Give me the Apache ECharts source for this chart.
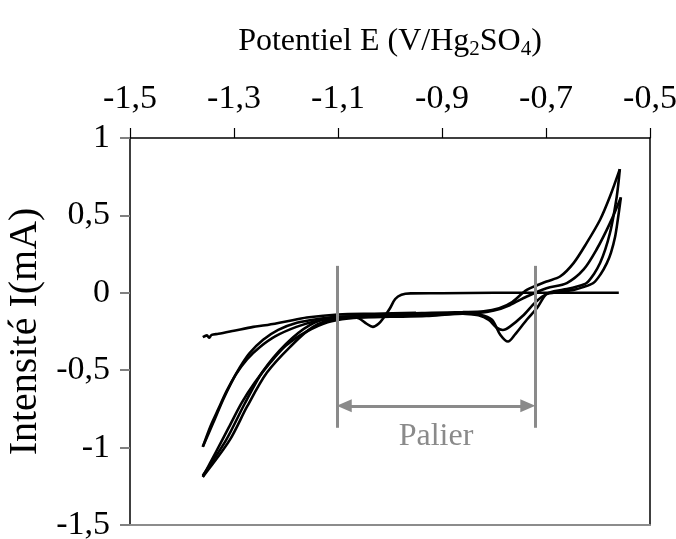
<!DOCTYPE html>
<html>
<head>
<meta charset="utf-8">
<script src="https://cdn.jsdelivr.net/npm/echarts@6/dist/echarts.min.js"></script>
<style>html,body{margin:0;padding:0;background:#fff}#c{width:676px;height:539px}</style>
</head>
<body>
<div id="c"></div>
<script>
// ---- data: [potential E (V), current I (mA)] ----
const xTicks = [-1.5, -1.3, -1.1, -0.9, -0.7, -0.5];
const yTicks = [-1.5, -1, -0.5, 0, 0.5, 1];

const sweep0 = [[-0.56,0.0],[-0.62,0.0],[-0.70,0.0],[-0.80,0.0],[-0.90,-0.003],[-0.96,-0.004],[-0.978,-0.012],[-0.99,-0.04],[-1.0,-0.1],[-1.012,-0.16],[-1.022,-0.2],[-1.033,-0.22],[-1.045,-0.2],[-1.06,-0.165],[-1.08,-0.155],[-1.11,-0.16],[-1.155,-0.21],[-1.20,-0.33],[-1.245,-0.51],[-1.28,-0.72],[-1.315,-0.95],[-1.36,-1.18]];

const sweep1 = [[-1.36,-1.189],[-1.335,-1.03],[-1.31,-0.87],[-1.285,-0.71],[-1.26,-0.58],[-1.23,-0.45],[-1.20,-0.34],[-1.16,-0.25],[-1.12,-0.19],[-1.08,-0.165],[-1.02,-0.15],[-0.95,-0.14],[-0.88,-0.135],[-0.83,-0.13],[-0.80,-0.115],[-0.77,-0.08],[-0.737,-0.024],[-0.699,0.03],[-0.66,0.063],[-0.628,0.149],[-0.603,0.278],[-0.577,0.45],[-0.556,0.616]];

const sweep2 = [[-0.556,0.616],[-0.562,0.47],[-0.567,0.364],[-0.575,0.26],[-0.583,0.192],[-0.595,0.12],[-0.609,0.063],[-0.63,0.035],[-0.647,0.019],[-0.675,0.005],[-0.70,-0.01],[-0.72,-0.06],[-0.745,-0.15],[-0.77,-0.22],[-0.783,-0.24],[-0.795,-0.225],[-0.81,-0.175],[-0.83,-0.145],[-0.86,-0.135],[-0.92,-0.14],[-0.98,-0.145],[-1.04,-0.15],[-1.10,-0.155],[-1.14,-0.17],[-1.179,-0.194],[-1.215,-0.24],[-1.244,-0.304],[-1.27,-0.39],[-1.288,-0.478],[-1.305,-0.58],[-1.321,-0.691],[-1.34,-0.84],[-1.36,-0.995]];

const sweep3 = [[-1.36,-0.995],[-1.345,-0.86],[-1.33,-0.75],[-1.315,-0.64],[-1.297,-0.53],[-1.275,-0.43],[-1.25,-0.35],[-1.22,-0.28],[-1.18,-0.22],[-1.14,-0.18],[-1.10,-0.16],[-1.04,-0.145],[-0.98,-0.135],[-0.92,-0.13],[-0.86,-0.125],[-0.82,-0.12],[-0.79,-0.10],[-0.765,-0.06],[-0.737,0.019],[-0.699,0.073],[-0.673,0.105],[-0.647,0.192],[-0.622,0.321],[-0.596,0.472],[-0.577,0.622],[-0.558,0.799]];

const sweep4 = [[-0.558,0.799],[-0.561,0.70],[-0.564,0.62],[-0.57,0.50],[-0.577,0.386],[-0.586,0.28],[-0.596,0.192],[-0.608,0.12],[-0.622,0.063],[-0.64,0.04],[-0.66,0.024],[-0.685,0.01],[-0.70,-0.01],[-0.717,-0.097],[-0.737,-0.174],[-0.76,-0.271],[-0.773,-0.315],[-0.788,-0.271],[-0.804,-0.174],[-0.827,-0.142],[-0.86,-0.135],[-0.93,-0.15],[-1.0,-0.155],[-1.06,-0.16],[-1.10,-0.165],[-1.148,-0.22],[-1.192,-0.349],[-1.237,-0.517],[-1.275,-0.736],[-1.308,-0.95],[-1.36,-1.189]];

const sweep5 = [[-0.95,-0.13],[-1.03,-0.135],[-1.10,-0.14],[-1.16,-0.16],[-1.20,-0.185],[-1.24,-0.21],[-1.263,-0.22],[-1.30,-0.245],[-1.33,-0.265],[-1.343,-0.272],[-1.348,-0.29],[-1.352,-0.275],[-1.36,-0.286]];

// "Palier" annotation: plateau limits (E) and drawing extents (I)
const palierE = [-1.102, -0.721];
const palierI = [0.174, -0.872];
const palierArrowI = -0.73;
const palierLabel = 'Palier';

const FONT = '"Liberation Serif", "Times New Roman", serif';
const chart = echarts.init(document.getElementById('c'));

const sweeps = [sweep0, sweep1, sweep2, sweep3, sweep4, sweep5];
const series = sweeps.map(d => ({
  type: 'line', data: d, showSymbol: false, smooth: 0.3, silent: true,
  lineStyle: {color: '#000', width: 2.6}, z: 3
}));

const gray = '#8a8a8a';
series.push({
  type: 'line', data: [], silent: true,
  markLine: {
    silent: true, animation: false,
    symbol: ['none', 'none'],
    lineStyle: {color: gray, width: 3, type: 'solid'},
    label: {show: false},
    data: [
      [{coord: [palierE[0], palierI[0]]}, {coord: [palierE[0], palierI[1]]}],
      [{coord: [palierE[1], palierI[0]]}, {coord: [palierE[1], palierI[1]]}],
      [{coord: [palierE[0] + 0.014, palierArrowI], symbol: 'triangle', symbolSize: [13, 15]},
       {coord: [palierE[1] - 0.014, palierArrowI], symbol: 'triangle', symbolSize: [13, 15],
        label: {show: true, formatter: palierLabel, position: 'insideMiddleBottom', distance: 15,
          color: gray, fontSize: 32, fontFamily: FONT}}]
    ]
  }
});

chart.setOption({
  animation: false,
  grid: {left: 130, right: 26, top: 138, bottom: 14, containLabel: false, outerBoundsMode: 'none'},
  xAxis: [{
    type: 'value', position: 'top', min: xTicks[0], max: xTicks[xTicks.length - 1], interval: 0.2,
    axisLine: {onZero: false, lineStyle: {color: '#000', width: 1.5}},
    axisTick: {show: true, length: 10, lineStyle: {color: '#000', width: 1.2}},
    splitLine: {show: false},
    axisLabel: {color: '#000', fontSize: 34, fontFamily: FONT, margin: 22,
      formatter: v => v.toFixed(1).replace('.', ',')},
    name: 'Potentiel E (V/Hg{sub|2}SO{sub|4})',
    nameLocation: 'middle', nameGap: 78,
    nameTextStyle: {color: '#000', fontSize: 32, fontFamily: FONT, lineHeight: 36,
      rich: {sub: {fontSize: 21, lineHeight: 21, verticalAlign: 'bottom', fontFamily: FONT, color: '#000'}}}
  }, {
    type: 'value', position: 'bottom', min: xTicks[0], max: xTicks[xTicks.length - 1],
    axisLine: {onZero: false, lineStyle: {color: '#8c8c8c', width: 2}},
    axisTick: {show: false}, axisLabel: {show: false}, splitLine: {show: false}
  }],
  yAxis: [{
    type: 'value', position: 'left', min: yTicks[0], max: yTicks[yTicks.length - 1], interval: 0.5,
    axisLine: {onZero: false, lineStyle: {color: '#000', width: 1.5}},
    axisTick: {show: true, length: 10, lineStyle: {color: '#808080', width: 2}},
    splitLine: {show: false},
    axisLabel: {color: '#000', fontSize: 34, fontFamily: FONT, margin: 20,
      formatter: v => String(Math.round(v * 10) / 10).replace('.', ',')},
    name: 'Intensité I(mA)', nameLocation: 'middle', nameGap: 75,
    nameTextStyle: {color: '#000', fontSize: 40, fontFamily: FONT}
  }, {
    type: 'value', position: 'right', min: yTicks[0], max: yTicks[yTicks.length - 1],
    axisLine: {onZero: false, lineStyle: {color: '#000', width: 1.5}},
    axisTick: {show: false}, axisLabel: {show: false}, splitLine: {show: false}
  }],
  series: series
});
</script>
</body>
</html>
